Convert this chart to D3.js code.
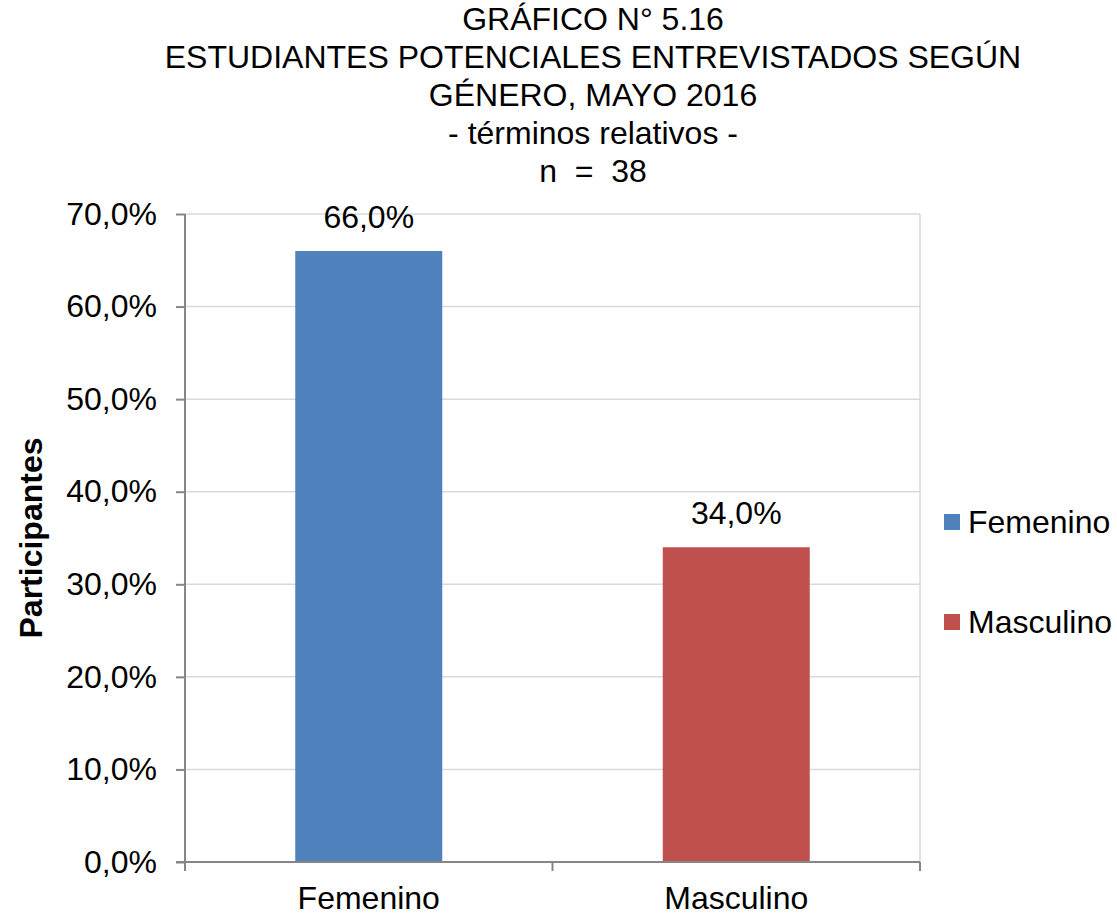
<!DOCTYPE html>
<meta charset="utf-8">
<title>grafico 5.16</title>
<style>
body {
  margin: 0px;
  background: #fff;
}
text {
  font-family: "Liberation Sans", Arial, sans-serif;
  fill: #000;
  white-space: pre;
}
</style>
<script src="https://d3js.org/d3.v7.min.js"></script>
<body>
<script>
// data
var categories = ["Femenino", "Masculino"];
var values = [66.0, 34.0];
var colors = ["#4f81bd", "#c0504d"];
var yTicks = [0, 10, 20, 30, 40, 50, 60, 70];
var titleLines = ["GRÁFICO N° 5.16",
  "ESTUDIANTES POTENCIALES ENTREVISTADOS SEGÚN",
  "GÉNERO, MAYO 2016",
  "- términos relativos -",
  "n  =  38"];
var yLabel = "Participantes";

var width = 1117, height = 915;
var plotLeft = 185, plotRight = 920, plotTop = 214, plotBottom = 862;
var fs = 32;

var svg = d3.select("body").append("svg")
    .attr("width", width)
    .attr("height", height);

var x = d3.scaleBand().domain(categories).range([plotLeft, plotRight]).padding(0);
var y = d3.scaleLinear().domain([0, 70]).range([plotBottom, plotTop]);
var fmt = function(v) { return d3.format(".1f")(v).replace(".", ",") + "%"; };

// title
svg.append("g").selectAll("text")
    .data(titleLines)
  .enter().append("text")
    .attr("x", 593)
    .attr("y", function(d, i) { return 30 + i * 38; })
    .attr("text-anchor", "middle")
    .style("font-size", fs + "px")
    .text(function(d) { return d; });

// gridlines
svg.append("g").selectAll("line")
    .data(yTicks.slice(1))
  .enter().append("line")
    .attr("x1", plotLeft).attr("x2", plotRight)
    .attr("y1", function(d) { return y(d); })
    .attr("y2", function(d) { return y(d); })
    .attr("stroke", "#d9d9d9")
    .attr("stroke-width", 1.5);
svg.append("line")
    .attr("x1", plotRight).attr("x2", plotRight)
    .attr("y1", plotTop).attr("y2", plotBottom)
    .attr("stroke", "#d9d9d9")
    .attr("stroke-width", 1.5);

// bars
var bw = x.bandwidth() * 0.4;
svg.append("g").selectAll("rect")
    .data(values)
  .enter().append("rect")
    .attr("x", function(d, i) { return x(categories[i]) + x.bandwidth() / 2 - bw / 2; })
    .attr("y", function(d) { return y(d); })
    .attr("width", bw)
    .attr("height", function(d) { return plotBottom - y(d); })
    .style("fill", function(d, i) { return colors[i]; });

// data labels
svg.append("g").selectAll("text")
    .data(values)
  .enter().append("text")
    .attr("x", function(d, i) { return x(categories[i]) + x.bandwidth() / 2; })
    .attr("y", function(d) { return y(d) - 23; })
    .attr("text-anchor", "middle")
    .style("font-size", fs + "px")
    .text(function(d) { return fmt(d); });

// y axis
var yAxis = svg.append("g")
    .attr("transform", "translate(" + plotLeft + ",0)")
    .call(d3.axisLeft(y).tickValues(yTicks).tickSize(9).tickPadding(19).tickFormat(fmt));
yAxis.selectAll("text").style("font-size", fs + "px").attr("fill", "#000")
    .style("font-family", "'Liberation Sans', Arial, sans-serif");
yAxis.selectAll("line, path").attr("stroke", "#868686").attr("stroke-width", 2);
yAxis.select(".domain").attr("d", "M0," + plotTop + "V" + plotBottom);

// x axis
var xAxis = svg.append("g")
    .attr("transform", "translate(0," + plotBottom + ")")
    .call(d3.axisBottom(x).tickSize(0).tickPadding(24));
xAxis.selectAll("text").style("font-size", fs + "px").attr("fill", "#000")
    .style("font-family", "'Liberation Sans', Arial, sans-serif");
xAxis.select(".domain").attr("d", "M" + (plotLeft - 9) + ",0H" + plotRight)
    .attr("stroke", "#868686").attr("stroke-width", 2);
xAxis.selectAll(".bound")
    .data([plotLeft, x(categories[1]), plotRight])
  .enter().append("line")
    .attr("class", "bound")
    .attr("x1", function(d) { return d; }).attr("x2", function(d) { return d; })
    .attr("y1", 0).attr("y2", 9)
    .attr("stroke", "#868686").attr("stroke-width", 2);

// y label
svg.append("text")
    .attr("transform", "translate(42," + (plotTop + plotBottom) / 2 + ") rotate(-90)")
    .attr("text-anchor", "middle")
    .style("font-size", fs + "px")
    .style("font-weight", "bold")
    .text(yLabel);

// legend
var legend = svg.append("g").attr("class", "legend");
legend.selectAll("rect")
    .data(categories)
  .enter().append("rect")
    .attr("x", 944)
    .attr("y", function(d, i) { return 514 + i * 100; })
    .attr("width", 16).attr("height", 16)
    .style("fill", function(d, i) { return colors[i]; });
legend.selectAll("text")
    .data(categories)
  .enter().append("text")
    .attr("x", 968)
    .attr("y", function(d, i) { return 533 + i * 100; })
    .style("font-size", fs + "px")
    .text(function(d) { return d; });
</script>
